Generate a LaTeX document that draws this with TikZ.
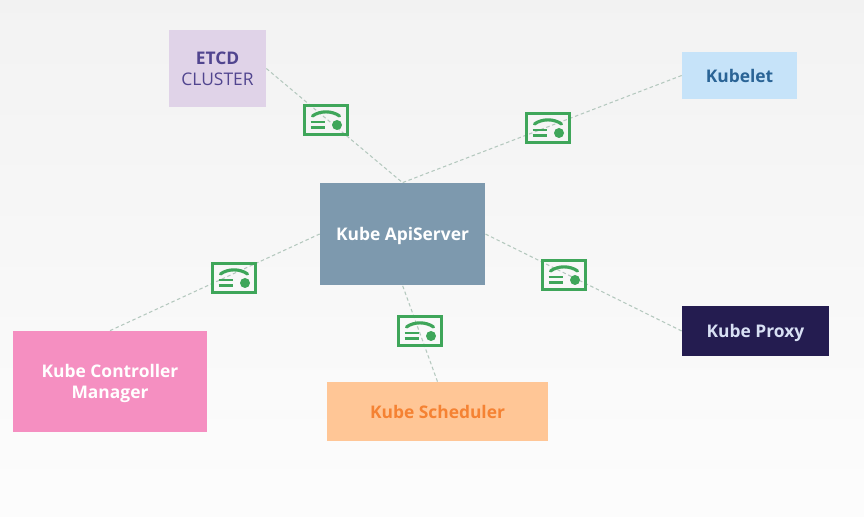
\documentclass[tikz,border=0pt]{standalone}
\usepackage{fontspec}
\setmainfont{Open Sans}
\usepackage{tikz}
\usetikzlibrary{positioning}

\definecolor{certgreen}{HTML}{3FA65A}
\definecolor{linkgrey}{HTML}{B4C8BE}
\definecolor{etcdfill}{HTML}{E0D3E8}
\definecolor{etcdtext}{HTML}{51458F}
\definecolor{letfill}{HTML}{C6E3F9}
\definecolor{lettext}{HTML}{2A6496}
\definecolor{apifill}{HTML}{7D99AE}
\definecolor{ctrlfill}{HTML}{F58FC1}
\definecolor{schedfill}{HTML}{FFC696}
\definecolor{schedtext}{HTML}{F58233}
\definecolor{proxyfill}{HTML}{241C50}
\definecolor{proxytext}{HTML}{D8E0F4}

\tikzset{
  box/.style={inner sep=0pt, align=center, text depth=0pt, font=\bfseries\fontsize{9.9}{11.9}\selectfont},
  link/.style={draw=linkgrey, line width=0.6pt, dash pattern=on 2pt off 1.5pt},
}

\begin{document}
\begin{tikzpicture}
  \def\w{17.28} % picture width
  \def\h{10.34} % picture height
  % background
  \shade[top color=black!5, bottom color=black!1, middle color=black!3] (0,0) rectangle (\w,\h);
  \useasboundingbox (0,0) rectangle (\w,\h);

  % the boxes
  \node[box, fill=etcdfill, text=etcdtext, minimum width=1.94cm, minimum height=1.54cm] (etcd) at (4.35,8.97)
    {ETCD\\{\mdseries CLUSTER}};
  \node[box, fill=letfill, text=lettext, minimum width=2.30cm, minimum height=0.94cm] (kubelet) at (14.79,8.83) {Kubelet};
  \node[box, fill=apifill, text=white, minimum width=3.30cm, minimum height=2.04cm] (api) at (8.05,5.66) {Kube ApiServer};
  \node[box, fill=ctrlfill, text=white, minimum width=3.88cm, minimum height=2.02cm] (ctrl) at (2.20,2.71)
    {Kube Controller\\Manager};
  \node[box, fill=schedfill, text=schedtext, minimum width=4.42cm, minimum height=1.18cm] (sched) at (8.75,2.11) {Kube Scheduler};
  \node[box, fill=proxyfill, text=proxytext, minimum width=2.94cm, minimum height=1.00cm] (proxy) at (15.11,3.72) {Kube Proxy};

  % the links
  \draw[link] (etcd.east) -- (api.north);
  \draw[link] (kubelet.west) -- (api.north);
  \draw[link] (ctrl.north) -- (api.west);
  \draw[link] (proxy.west) -- (api.east);
  \draw[link] (sched.north) -- (api.south);

  % the certificates
  \foreach \x/\y in {6.52/7.94, 10.96/7.78, 4.68/4.78, 11.28/4.84, 8.40/3.72} {
    \begin{scope}[shift={(\x,\y)}, certgreen]
      \draw[line width=1.9pt] (-0.43,-0.29) rectangle (0.43,0.29);
      \draw[line width=1.8pt, line cap=round] (-0.27,0.08) .. controls (-0.12,0.19) and (0.12,0.19) .. (0.27,0.08);
      \draw[line width=1.5pt] (-0.31,-0.04) -- (-0.03,-0.04);
      \draw[line width=1.5pt] (-0.31,-0.15) -- (-0.03,-0.15);
      \fill (0.22,-0.10) circle (0.10);
    \end{scope}
  }
\end{tikzpicture}
\end{document}
